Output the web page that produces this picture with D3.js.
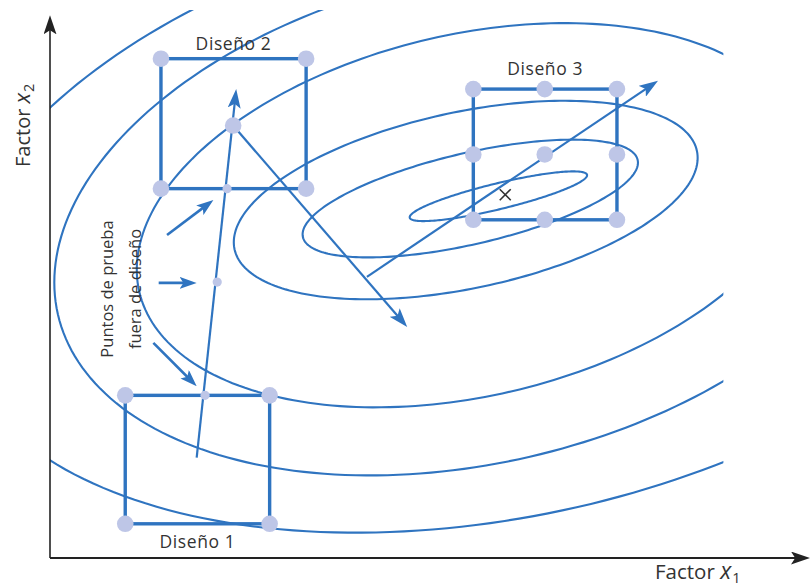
<!DOCTYPE html>
<html>
<head>
<meta charset="utf-8">
<script src="https://cdn.jsdelivr.net/npm/d3@7"></script>
<style>
  body { margin: 0; background: #fff; }
  svg { display: block; }
  text { font-family: "Open Sans", "Noto Sans", sans-serif; fill: #333; }
</style>
</head>
<body>
<svg id="chart" width="811" height="587"></svg>
<script>
// ---- Response surface contours (factor units): centre, semi-axes, tilt in degrees ----
const contourCx   = [5.90, 5.53, 5.47, 5.53, 5.59, 5.92];
const contourCy   = [4.76, 4.73, 4.71, 4.51, 4.47, 4.49];
const contourA    = [1.20, 2.26, 3.11, 4.47, 5.63, 7.37];
const contourB    = [0.17, 0.60, 1.16, 2.38, 3.22, 3.95];
const contourTilt = [13.6, 13.0, 12.0, 13.0, 13.0, 12.0];

// region of the factor plane where contours are drawn
const contourXMax = 8.86;
const contourYMax = 7.21;

// ---- Experimental designs ----
const designLabels = ["Diseño 1", "Diseño 2", "Diseño 3"];
const designX0 = [0.99, 1.46, 5.57];
const designX1 = [2.89, 3.37, 7.46];
const designY0 = [0.45, 4.86, 4.45];
const designY1 = [2.14, 6.57, 6.17];

const design1Points = [[0.99, 0.45], [2.89, 0.45], [0.99, 2.14], [2.89, 2.14]];
const design2Points = [[1.46, 4.86], [3.37, 4.86], [1.46, 6.57], [3.37, 6.57], [2.41, 5.69]];
const design3Points = [
  [5.57, 4.45], [6.51, 4.45], [7.46, 4.45],
  [5.57, 5.31], [6.51, 5.31], [7.46, 5.31],
  [5.57, 6.17], [6.51, 6.17], [7.46, 6.17]
];

// test points run outside a design, along the path of steepest ascent
const testPoints = [[2.04, 2.14], [2.20, 3.63], [2.33, 4.86]];

// paths of steepest ascent
const ascentFrom = [[1.93, 1.32], [2.41, 5.69], [4.17, 3.70]];
const ascentTo   = [[2.45, 6.17], [4.70, 3.04], [8.00, 6.28]];

// arrows pointing at the test points
const pointerFrom = [[1.54, 4.25], [1.43, 3.62], [1.36, 2.83]];
const pointerTo   = [[2.15, 4.71], [1.93, 3.62], [1.93, 2.26]];

// optimum
const optimum = [5.99, 4.78];

// ---- Layout ----
const unit = 76;                 // pixels per factor unit (same on both axes)
const originX = 50, originY = 558;
const xScale = d3.scaleLinear().domain([0, 10]).range([originX, originX + 10 * unit]);
const yScale = d3.scaleLinear().domain([0, 7.1]).range([originY, originY - 7.1 * unit]);

const blue = "#2f74c0";
const dotFill = "#bec6e7";

const svg = d3.select("#chart");
const defs = svg.append("defs");

function arrowMarker(id, color, len, wid) {
  defs.append("marker")
    .attr("id", id)
    .attr("markerUnits", "userSpaceOnUse")
    .attr("markerWidth", len).attr("markerHeight", wid)
    .attr("refX", len - 6).attr("refY", wid / 2)
    .attr("orient", "auto")
    .append("path")
    .attr("d", `M0,0 L${len},${wid / 2} L0,${wid} L${len * 0.22},${wid / 2} Z`)
    .attr("fill", color);
}
arrowMarker("headBlue", blue, 19, 13);
arrowMarker("headPointer", blue, 17, 12);
arrowMarker("headAxis", "#222", 19, 13);

defs.append("clipPath").attr("id", "contourClip")
  .append("rect")
  .attr("x", xScale(0)).attr("y", yScale(contourYMax))
  .attr("width", xScale(contourXMax) - xScale(0))
  .attr("height", yScale(0) - yScale(contourYMax));

// ---- Contours ----
const steps = d3.range(0, 360, 1.5);
const ellipseLine = d3.line()
  .x(d => xScale(d[0])).y(d => yScale(d[1]))
  .curve(d3.curveLinearClosed);

const contourG = svg.append("g").attr("clip-path", "url(#contourClip)");
contourCx.forEach((cx, i) => {
  const cy = contourCy[i], a = contourA[i], b = contourB[i];
  const th = contourTilt[i] * Math.PI / 180;
  const pts = steps.map(deg => {
    const t = deg * Math.PI / 180;
    const u = a * Math.cos(t), v = b * Math.sin(t);
    return [cx + u * Math.cos(th) - v * Math.sin(th), cy + u * Math.sin(th) + v * Math.cos(th)];
  });
  contourG.append("path")
    .attr("d", ellipseLine(pts))
    .attr("fill", "none")
    .attr("stroke", blue)
    .attr("stroke-width", 2.1);
});

// ---- Axes ----
const axisG = svg.append("g");
axisG.append("line")
  .attr("x1", xScale(0)).attr("y1", yScale(0))
  .attr("x2", xScale(10) - 6).attr("y2", yScale(0))
  .attr("stroke", "#222").attr("stroke-width", 1.8)
  .attr("marker-end", "url(#headAxis)");
axisG.append("line")
  .attr("x1", xScale(0)).attr("y1", yScale(0))
  .attr("x2", xScale(0)).attr("y2", yScale(7.14) + 6)
  .attr("stroke", "#222").attr("stroke-width", 1.6)
  .attr("marker-end", "url(#headAxis)");

// shortened segment so that the marker tip lands on the end point
function arrowSegment(g, p0, p1, width, marker) {
  const x0 = xScale(p0[0]), y0 = yScale(p0[1]);
  const x1 = xScale(p1[0]), y1 = yScale(p1[1]);
  const len = Math.hypot(x1 - x0, y1 - y0);
  const k = (len - 6) / len;
  g.append("line")
    .attr("x1", x0).attr("y1", y0)
    .attr("x2", x0 + (x1 - x0) * k).attr("y2", y0 + (y1 - y0) * k)
    .attr("stroke", blue).attr("stroke-width", width)
    .attr("marker-end", `url(#${marker})`);
}

// ---- Pointer arrows ----
const pointerG = svg.append("g");
pointerFrom.forEach((p, i) => arrowSegment(pointerG, p, pointerTo[i], 2.6, "headPointer"));

// ---- Paths of steepest ascent ----
const ascentG = svg.append("g");
ascentFrom.forEach((p, i) => arrowSegment(ascentG, p, ascentTo[i], 2.2, "headBlue"));

// ---- Design squares ----
const designG = svg.append("g");
designLabels.forEach((lab, i) => {
  designG.append("rect")
    .attr("x", xScale(designX0[i])).attr("y", yScale(designY1[i]))
    .attr("width", xScale(designX1[i]) - xScale(designX0[i]))
    .attr("height", yScale(designY0[i]) - yScale(designY1[i]))
    .attr("fill", "none").attr("stroke", blue).attr("stroke-width", 3.4);
});

const dotG = svg.append("g");
[design1Points, design2Points, design3Points].forEach(pts => {
  dotG.selectAll(null).data(pts).enter().append("circle")
    .attr("cx", d => xScale(d[0])).attr("cy", d => yScale(d[1]))
    .attr("r", 8.3).attr("fill", dotFill);
});
dotG.selectAll(null).data(testPoints).enter().append("circle")
  .attr("cx", d => xScale(d[0])).attr("cy", d => yScale(d[1]))
  .attr("r", 4.6).attr("fill", dotFill);

// ---- Optimum marker ----
const ox = xScale(optimum[0]), oy = yScale(optimum[1]);
svg.append("path")
  .attr("d", `M${ox - 5.5},${oy - 5.5}L${ox + 5.5},${oy + 5.5}M${ox - 5.5},${oy + 5.5}L${ox + 5.5},${oy - 5.5}`)
  .attr("stroke", "#333").attr("stroke-width", 1.6);

// ---- Labels ----
const labelOffset = [24, -9, -14];
designLabels.forEach((lab, i) => {
  const y = labelOffset[i] > 0 ? yScale(designY0[i]) + labelOffset[i] : yScale(designY1[i]) + labelOffset[i];
  svg.append("text")
    .attr("x", (xScale(designX0[i]) + xScale(designX1[i])) / 2)
    .attr("y", y)
    .attr("text-anchor", "middle")
    .attr("font-size", 17.5)
    .attr("letter-spacing", 0.6)
    .text(lab);
});

const xLab = svg.append("text").attr("x", 655).attr("y", 579).attr("font-size", 20.5);
xLab.append("tspan").text("Factor ");
xLab.append("tspan").attr("font-style", "italic").attr("font-size", 23).text("x");
xLab.append("tspan").attr("font-size", 14.5).attr("dy", 3.5).attr("dx", 1).text("1");

const yLab = svg.append("text")
  .attr("transform", "translate(30,167) rotate(-90)")
  .attr("font-size", 20);
yLab.append("tspan").text("Factor ");
yLab.append("tspan").attr("font-style", "italic").attr("font-size", 22).text("x");
yLab.append("tspan").attr("font-size", 14.5).attr("dy", 4).attr("dx", 1).text("2");

const noteLines = ["Puntos de prueba", "fuera de diseño"];
const noteBaselines = [113, 141];
noteLines.forEach((t, i) => {
  svg.append("text")
    .attr("transform", `translate(${noteBaselines[i]},289) rotate(-90)`)
    .attr("text-anchor", "middle")
    .attr("font-size", 16.5)
    .text(t);
});
</script>
</body>
</html>
